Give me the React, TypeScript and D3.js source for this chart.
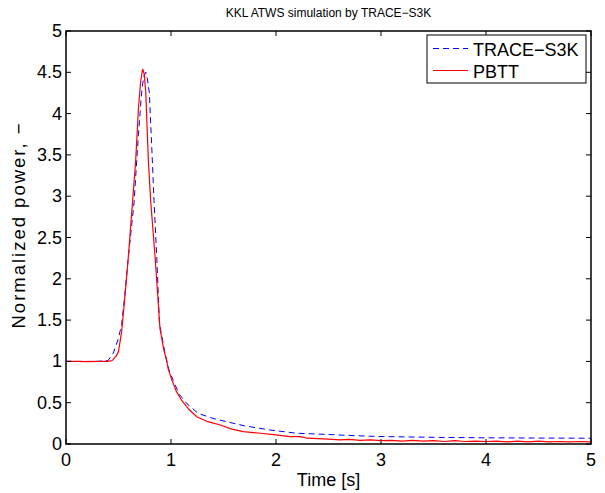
import React from "react";
import * as d3 from "d3";

const traceT = [0, 0.1, 0.2, 0.3, 0.4, 0.45, 0.5, 0.53, 0.56, 0.594, 0.648, 0.664, 0.69, 0.72, 0.74, 0.76, 0.775, 0.794, 0.822, 0.838, 0.864, 0.89, 0.943, 0.98, 1.02, 1.08, 1.15, 1.26, 1.4, 1.53, 1.7, 1.94, 2.2, 2.5, 2.77, 3.0, 3.56, 4.0, 4.5, 5.0];
const traceV = [1.0, 1.0, 1.0, 1.0, 1.01, 1.1, 1.28, 1.45, 1.8, 2.27, 2.92, 3.24, 3.75, 4.25, 4.45, 4.5, 4.42, 4.25, 3.44, 2.95, 2.27, 1.46, 1.1, 0.9, 0.77, 0.6, 0.49, 0.37, 0.31, 0.27, 0.22, 0.17, 0.13, 0.115, 0.1, 0.09, 0.08, 0.075, 0.072, 0.07];

const pbttT = [0, 0.1, 0.2, 0.3, 0.4, 0.44, 0.48, 0.5, 0.53, 0.555, 0.594, 0.635, 0.664, 0.689, 0.71, 0.73, 0.745, 0.76, 0.784, 0.806, 0.848, 0.895, 0.93, 0.96, 0.975, 1.01, 1.05, 1.1, 1.17, 1.245, 1.35, 1.47, 1.58, 1.69, 1.85, 2.0, 2.13, 2.23, 2.3, 2.4, 2.5, 2.61, 2.7, 2.8, 2.9, 3.0, 3.1, 3.2, 3.3, 3.4, 3.5, 3.6, 3.7, 3.8, 3.9, 4.0, 4.1, 4.2, 4.3, 4.4, 4.5, 4.6, 4.7, 4.8, 4.9, 5.0];
const pbttV = [1.0, 1.0, 0.998, 1.0, 1.0, 1.01, 1.07, 1.12, 1.36, 1.7, 2.27, 2.95, 3.44, 4.04, 4.38, 4.54, 4.48, 4.25, 3.44, 2.95, 2.27, 1.4, 1.15, 1.0, 0.9, 0.77, 0.64, 0.53, 0.42, 0.33, 0.27, 0.23, 0.18, 0.15, 0.13, 0.11, 0.09, 0.09, 0.07, 0.065, 0.06, 0.05, 0.055, 0.045, 0.05, 0.04, 0.045, 0.035, 0.045, 0.035, 0.04, 0.03, 0.04, 0.03, 0.035, 0.03, 0.035, 0.025, 0.035, 0.025, 0.035, 0.025, 0.03, 0.025, 0.03, 0.025];

const xTicks = [0, 1, 2, 3, 4, 5];
const yTicks = [0, 0.5, 1, 1.5, 2, 2.5, 3, 3.5, 4, 4.5, 5];
const seriesNames = ["TRACE\u2212S3K", "PBTT"];
const titleText = "KKL ATWS simulation by TRACE\u2212S3K";
const xLabel = "Time [s]";
const yLabel = "Normalized power, \u2212";

export default function App() {
  const W = 605, H = 493;
  const L = 66, R = 591, T = 31, B = 444;
  const x = d3.scaleLinear().domain([0, 5]).range([L, R]);
  const y = d3.scaleLinear().domain([0, 5]).range([B, T]);
  const line = d3.line<[number, number]>().x(d => x(d[0])).y(d => y(d[1]));
  const traceData = traceT.map((t, i) => [t, traceV[i]] as [number, number]);
  const pbttData = pbttT.map((t, i) => [t, pbttV[i]] as [number, number]);
  const font = "Liberation Sans, Arial, sans-serif";
  const tl = 5;
  return (
    <svg width={W} height={H} style={{ position: "absolute", left: 0, top: 0, background: "#fff" }} fontFamily={font}>
      <rect x={0} y={0} width={W} height={H} fill="#fff" />
      <text x={(L + R) / 2} y={17} fontSize={12} textAnchor="middle">{titleText}</text>
      <defs>
        <clipPath id="clip"><rect x={L} y={T} width={R - L} height={B - T} /></clipPath>
      </defs>
      <g clipPath="url(#clip)">
        <path d={line(traceData) || ""} fill="none" stroke="#0000ff" strokeWidth={1} strokeDasharray="6,4" />
        <path d={line(pbttData) || ""} fill="none" stroke="#ff0000" strokeWidth={1.2} />
      </g>
      <rect x={L} y={T} width={R - L} height={B - T} fill="none" stroke="#000" strokeWidth={1.5} />
      {xTicks.map(t => (
        <g key={"x" + t}>
          <line x1={x(t)} x2={x(t)} y1={B} y2={B - tl} stroke="#000" />
          <line x1={x(t)} x2={x(t)} y1={T} y2={T + tl} stroke="#000" />
          <text x={x(t)} y={B + 22} fontSize={18} textAnchor="middle">{t}</text>
        </g>
      ))}
      {yTicks.map(t => (
        <g key={"y" + t}>
          <line x1={L} x2={L + tl} y1={y(t)} y2={y(t)} stroke="#000" />
          <line x1={R} x2={R - tl} y1={y(t)} y2={y(t)} stroke="#000" />
          <text x={L - 4} y={y(t) + 6} fontSize={18} textAnchor="end">{t}</text>
        </g>
      ))}
      <text x={(L + R) / 2} y={486} fontSize={18} textAnchor="middle">{xLabel}</text>
      <text transform={`translate(25,226) rotate(-90)`} fontSize={18.5} textAnchor="middle" textLength={205} lengthAdjust="spacing">{yLabel}</text>
      <g>
        <rect x={427} y={35} width={159} height={48} fill="#fff" stroke="#000" strokeWidth={1} />
        <line x1={433} x2={468} y1={48.5} y2={48.5} stroke="#0000ff" strokeDasharray="6,4" />
        <text x={473} y={55.5} fontSize={18}>{seriesNames[0]}</text>
        <line x1={433} x2={468} y1={70.5} y2={70.5} stroke="#ff0000" />
        <text x={473} y={77.5} fontSize={18}>{seriesNames[1]}</text>
      </g>
    </svg>
  );
}
